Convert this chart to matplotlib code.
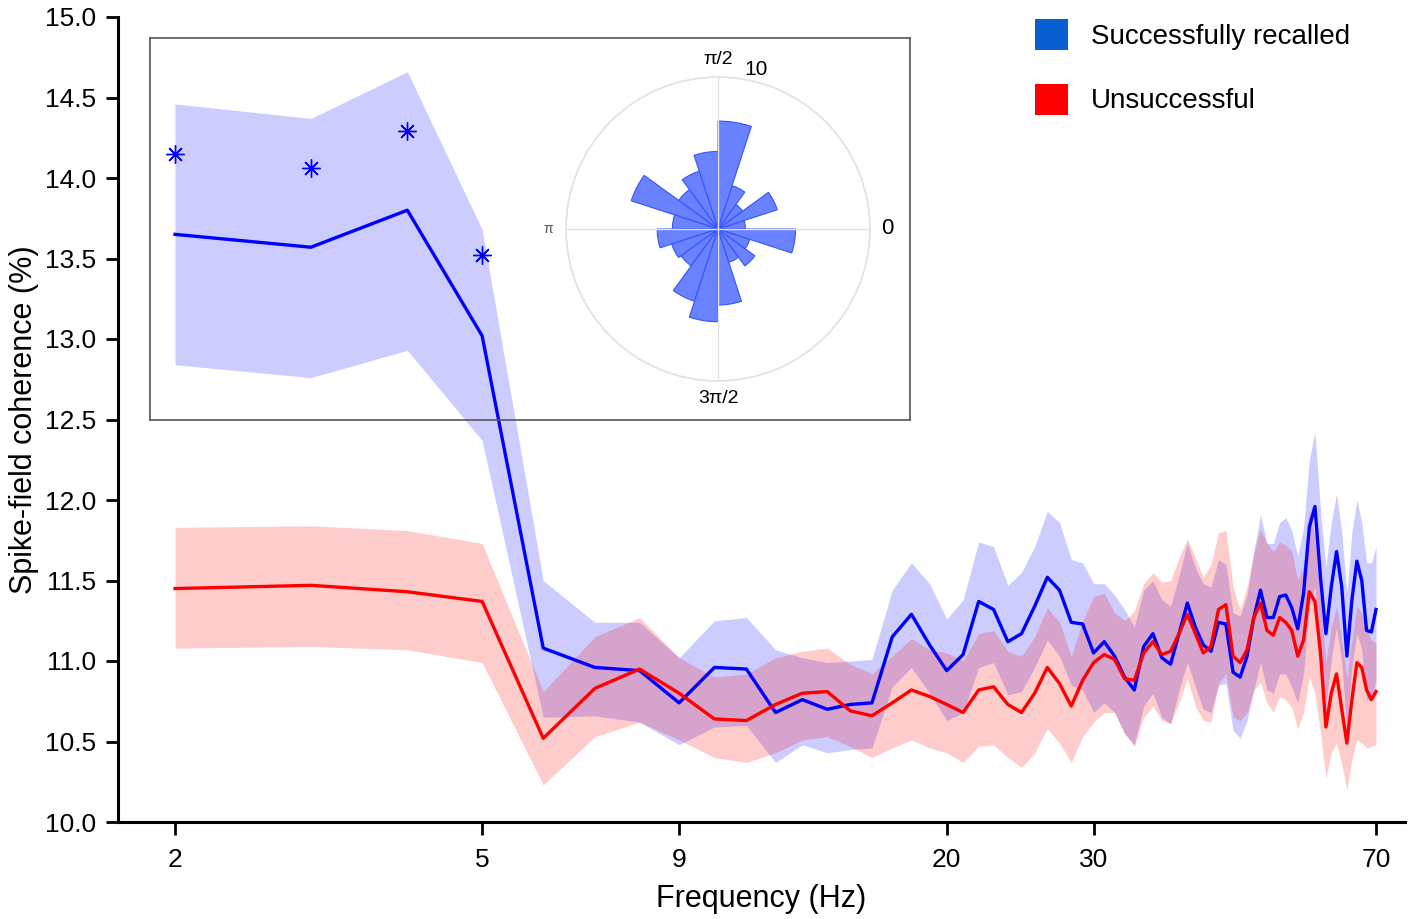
"""
spike_field_coherence.py
------------------------
Spike-field coherence per frequency for successfully recalled vs.
unsuccessful trials (mean line + shaded error band), with an inset
rose plot of the spike phase distribution.
"""

import numpy as np
import matplotlib
matplotlib.use("Agg")          # no display needed
import matplotlib.pyplot as plt
from matplotlib.patches import Patch

plt.rcParams["font.family"] = ["Liberation Sans", "DejaVu Sans"]

# ── Data ───────────────────────────────────────────────────────────────────────

FREQS = list(range(2, 73))     # Hz, one point per integer frequency

BLUE_MEAN = [
    13.65, 13.57, 13.80, 13.02, 11.08, 10.96, 10.94, 10.74, 10.96, 10.95,
    10.68, 10.76, 10.70, 10.73, 10.74, 11.15, 11.29, 11.10, 10.94, 11.04,
    11.37, 11.32, 11.12, 11.17, 11.34, 11.52, 11.44, 11.24, 11.23, 11.05,
    11.12, 11.03, 10.90, 10.82, 11.09, 11.17, 11.02, 10.98, 11.17, 11.36,
    11.21, 11.10, 11.06, 11.24, 11.23, 10.93, 10.90, 11.03, 11.27, 11.44,
    11.27, 11.27, 11.40, 11.41, 11.33, 11.20, 11.42, 11.83, 11.96, 11.52,
    11.17, 11.46, 11.68, 11.46, 11.03, 11.38, 11.62, 11.50, 11.19, 11.18,
    11.32,
]
BLUE_UPPER = [
    14.46, 14.37, 14.66, 13.68, 11.50, 11.24, 11.24, 11.02, 11.25, 11.27,
    11.07, 11.02, 10.99, 11.00, 11.01, 11.44, 11.61, 11.48, 11.26, 11.38,
    11.74, 11.71, 11.47, 11.55, 11.71, 11.93, 11.86, 11.63, 11.61, 11.48,
    11.48, 11.41, 11.32, 11.21, 11.44, 11.50, 11.38, 11.34, 11.53, 11.73,
    11.58, 11.48, 11.46, 11.63, 11.60, 11.30, 11.28, 11.41, 11.68, 11.91,
    11.73, 11.73, 11.86, 11.89, 11.81, 11.65, 11.83, 12.25, 12.42, 11.94,
    11.58, 11.86, 12.04, 11.80, 11.42, 11.80, 12.00, 11.86, 11.61, 11.61,
    11.71,
]
BLUE_LOWER = [
    12.84, 12.76, 12.93, 12.37, 10.65, 10.66, 10.62, 10.48, 10.59, 10.60,
    10.37, 10.48, 10.43, 10.45, 10.46, 10.84, 10.96, 10.80, 10.63, 10.68,
    10.96, 10.99, 10.79, 10.81, 10.96, 11.13, 11.03, 10.85, 10.82, 10.68,
    10.74, 10.68, 10.55, 10.48, 10.72, 10.80, 10.65, 10.61, 10.82, 10.99,
    10.84, 10.70, 10.68, 10.85, 10.86, 10.57, 10.52, 10.63, 10.82, 10.99,
    10.82, 10.80, 10.92, 10.92, 10.84, 10.74, 10.92, 11.34, 11.46, 11.05,
    10.72, 11.01, 11.21, 10.99, 10.57, 10.96, 11.17, 11.07, 10.76, 10.76,
    10.88,
]

RED_MEAN = [
    11.45, 11.47, 11.43, 11.37, 10.52, 10.83, 10.95, 10.80, 10.64, 10.63,
    10.73, 10.80, 10.81, 10.69, 10.66, 10.74, 10.82, 10.78, 10.73, 10.68,
    10.82, 10.84, 10.73, 10.68, 10.80, 10.96, 10.86, 10.72, 10.88, 10.99,
    11.04, 11.01, 10.89, 10.88, 11.05, 11.12, 11.04, 11.06, 11.17, 11.29,
    11.17, 11.05, 11.09, 11.32, 11.35, 11.03, 10.99, 11.07, 11.27, 11.36,
    11.19, 11.16, 11.27, 11.24, 11.19, 11.03, 11.13, 11.43, 11.37, 11.05,
    10.59, 10.80, 10.92, 10.70, 10.49, 10.76, 10.99, 10.96, 10.82, 10.76,
    10.81,
]
RED_UPPER = [
    11.83, 11.84, 11.81, 11.73, 10.81, 11.15, 11.27, 11.02, 10.90, 10.92,
    11.02, 11.06, 11.08, 10.98, 10.92, 11.03, 11.14, 11.07, 11.05, 11.00,
    11.17, 11.19, 11.06, 11.03, 11.15, 11.33, 11.24, 11.03, 11.25, 11.40,
    11.42, 11.30, 11.25, 11.31, 11.48, 11.55, 11.49, 11.50, 11.64, 11.76,
    11.64, 11.52, 11.60, 11.80, 11.81, 11.46, 11.32, 11.46, 11.67, 11.82,
    11.73, 11.68, 11.74, 11.72, 11.68, 11.50, 11.59, 11.94, 11.77, 11.38,
    10.99, 11.21, 11.34, 11.13, 10.90, 11.13, 11.34, 11.30, 11.19, 11.13,
    11.11,
]
RED_LOWER = [
    11.08, 11.09, 11.07, 10.99, 10.23, 10.53, 10.62, 10.51, 10.40, 10.37,
    10.43, 10.51, 10.53, 10.47, 10.40, 10.46, 10.51, 10.46, 10.43, 10.37,
    10.47, 10.48, 10.40, 10.34, 10.43, 10.58, 10.49, 10.37, 10.53, 10.62,
    10.68, 10.68, 10.55, 10.47, 10.65, 10.72, 10.63, 10.61, 10.74, 10.89,
    10.72, 10.63, 10.62, 10.86, 10.92, 10.65, 10.63, 10.68, 10.82, 10.87,
    10.74, 10.68, 10.78, 10.76, 10.71, 10.58, 10.68, 10.90, 10.80, 10.55,
    10.27, 10.43, 10.49, 10.36, 10.20, 10.39, 10.51, 10.49, 10.46, 10.47,
    10.48,
]

# significance markers above the blue curve
SIG_FREQS  = [2, 3, 4, 5]
SIG_VALUES = [14.15, 14.06, 14.29, 13.52]

# tick marks sit where the reference draws them
X_TICKS       = [2, 5, 9, 20, 31, 72]
X_TICK_LABELS = ["2", "5", "9", "20", "30", "70"]
Y_TICKS       = [10.0, 10.5, 11.0, 11.5, 12.0, 12.5, 13.0, 13.5, 14.0, 14.5, 15.0]

# inset rose plot: counts per 18-degree phase bin, starting at 0 rad
PHASE_COUNTS = [1.8, 4.1, 2.0, 3.0, 7.1, 5.1, 4.0, 3.2, 6.0, 3.0,
                4.0, 3.2, 3.0, 5.0, 6.1, 5.0, 2.3, 3.0, 2.2, 5.1]
PHASE_TICKS  = ["0", "π/2", "π", "3π/2"]

LEGEND_LABELS = ["Successfully recalled", "Unsuccessful"]


def main() -> None:
    fig = plt.figure(figsize=(14.13, 9.19), dpi=100)
    W, H = 1413, 919

    # ── Main panel ────────────────────────────────────────────────────────────
    ax = fig.add_axes([118 / W, 1 - 822 / H, (1405 - 118) / W, (822 - 17) / H])
    ax.fill_between(FREQS, BLUE_LOWER, BLUE_UPPER, color="blue", alpha=0.2, lw=0)
    ax.fill_between(FREQS, RED_LOWER, RED_UPPER, color="red", alpha=0.2, lw=0)
    ax.plot(FREQS, BLUE_MEAN, color="blue", lw=2.4)
    ax.plot(FREQS, RED_MEAN, color="red", lw=2.4)
    ax.plot(SIG_FREQS, SIG_VALUES, ls="none", marker=(8, 2, 0), ms=13,
            mew=1.0, color="blue")

    ax.set_xscale("log")
    ax.set_xlim(1.687, 78.5)
    ax.set_ylim(10, 15)
    ax.set_xticks(X_TICKS)
    ax.set_xticklabels(X_TICK_LABELS)
    ax.minorticks_off()
    ax.set_yticks(Y_TICKS)
    ax.set_yticklabels([f"{v:.1f}" for v in Y_TICKS])

    for side in ("top", "right"):
        ax.spines[side].set_visible(False)
    for side in ("left", "bottom"):
        ax.spines[side].set_linewidth(2.2)
    ax.tick_params(direction="out", length=9, width=2, labelsize=19)
    ax.tick_params(axis="x", pad=10)
    ax.tick_params(axis="y", pad=7)

    ax.set_xlabel("Frequency (Hz)", fontsize=22, labelpad=8)
    ax.set_ylabel("Spike-field coherence (%)", fontsize=22, labelpad=4)

    handles = [Patch(facecolor="#0a5fd0", edgecolor="none"),
               Patch(facecolor="#ff0000", edgecolor="none")]
    ax.legend(handles, LEGEND_LABELS, loc="upper left", frameon=False,
              bbox_to_anchor=(1035 / W, 1 - 19 / H), bbox_transform=fig.transFigure,
              fontsize=20, handlelength=1.2, handleheight=1.35,
              handletextpad=0.8, labelspacing=1.2, borderpad=0, borderaxespad=0)

    # ── Inset frame ───────────────────────────────────────────────────────────
    inset = fig.add_axes([150 / W, 1 - 420 / H, 760 / W, 382 / H], facecolor="none")
    inset.set_xticks([])
    inset.set_yticks([])
    for sp in inset.spines.values():
        sp.set_color("#555555")
        sp.set_linewidth(1.2)

    # ── Rose plot ─────────────────────────────────────────────────────────────
    pax = fig.add_axes([566 / W, 1 - 381 / H, 304 / W, 304 / H], projection="polar",
                       facecolor="none")
    theta = np.deg2rad(np.arange(len(PHASE_COUNTS)) * 18 + 9)
    pax.bar(theta, PHASE_COUNTS, width=np.deg2rad(18), bottom=0,
            color="#6a82ff", edgecolor="#3355ff", lw=0.8)
    pax.set_ylim(0, 10)
    pax.set_yticks([10])
    pax.set_yticklabels(["10"], fontsize=15)
    pax.set_rlabel_position(80)
    pax.set_thetagrids([0, 90, 180, 270], PHASE_TICKS, fontsize=14)
    for lbl in pax.get_xticklabels():
        if lbl.get_text() == "π":
            lbl.set_fontsize(10)
            lbl.set_color("#555555")
        elif lbl.get_text() == "0":
            lbl.set_fontsize(16)
    pax.tick_params(pad=2)
    pax.grid(color="#e2e2e2", lw=1)
    pax.spines["polar"].set_color("#e2e2e2")
    pax.spines["polar"].set_linewidth(1.2)

    fig.savefig("out.png", dpi=100)
    plt.close(fig)


if __name__ == "__main__":
    main()
